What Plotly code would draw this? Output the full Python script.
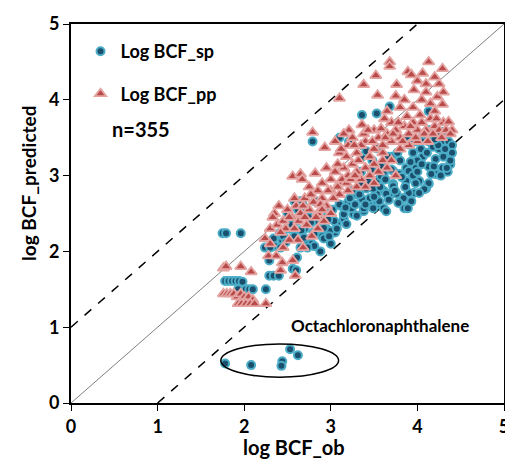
import plotly.graph_objects as go

# ---- data: Log BCF_sp (observed, predicted) ----
sp_x = [1.75, 1.79, 1.96,
        1.78, 1.82, 1.86, 1.90, 1.94, 1.98, 2.02, 2.06, 2.10, 2.25, 1.93,
        2.29, 2.34, 2.40, 2.56, 2.60,
        2.24, 2.35, 2.44, 2.34, 2.29, 2.42, 2.41, 2.50, 2.61, 2.58, 2.82, 2.73, 2.61,
        2.30, 2.45, 2.52, 2.58, 2.65, 2.70, 2.72, 2.75, 2.80, 2.85, 2.90, 2.95, 3.00,
        2.62, 2.68, 2.50, 2.78, 3.05, 2.88, 2.81, 2.73, 2.99, 3.07, 2.92, 3.15, 3.26,
        3.38, 3.45, 3.53, 3.61, 3.76, 3.87, 4.10,
        2.65, 2.67, 2.82, 2.79, 3.10, 3.21, 3.36, 3.53, 3.68, 4.13,
        3.36, 3.41, 3.53, 3.87, 3.90, 4.08, 4.13, 4.29, 4.36, 4.25, 4.33, 4.21, 4.06,
        4.13, 3.98, 3.87, 3.72, 3.61, 3.53, 3.72, 3.87, 4.02, 4.13, 3.41, 3.53, 3.68,
        3.84, 3.96, 3.36, 3.24, 3.38, 3.53, 3.61, 3.85, 3.15, 3.30, 3.04, 3.18, 2.92,
        3.07, 2.81, 2.98, 2.69,
        3.47, 3.58, 3.70, 3.79, 3.90, 3.98, 4.13, 4.21, 4.29, 4.19, 4.08, 4.02, 3.90,
        3.84, 3.93, 3.89, 3.78, 3.64, 3.56, 3.49, 3.64, 3.72, 3.49, 3.45,
        4.29, 4.35, 4.40, 4.30, 4.38, 4.22, 4.15, 3.95, 4.00, 4.18, 4.27, 4.35, 4.40,
        3.30, 3.20, 3.12, 3.00, 2.95, 3.35, 3.25, 3.45, 3.60, 3.70, 3.80, 3.95, 4.05,
        2.48, 2.55, 2.66, 2.77, 2.87, 2.97, 3.02, 3.10, 3.17, 3.22, 3.28, 3.33, 3.40,
        3.43, 3.50, 3.57, 3.63, 3.67, 3.74, 3.82, 3.86, 3.92, 4.00, 4.04, 4.11, 4.16,
        4.24, 4.32, 4.38, 3.35, 3.48, 3.58, 3.66, 3.77, 3.97, 4.07, 4.20, 4.34,
        1.78, 2.08, 2.44, 2.43, 2.53, 2.62]
sp_y = [2.24, 2.24, 2.24,
        1.61, 1.61, 1.61, 1.61, 1.61, 1.60, 1.50, 1.50, 1.50, 1.50, 1.50,
        1.68, 1.68, 1.68, 1.77, 1.75,
        2.05, 2.07, 2.14, 2.17, 1.88, 2.05, 2.24, 2.31, 2.40, 2.66, 2.66, 2.51, 1.92,
        2.05, 2.20, 2.30, 2.20, 2.05, 2.30, 2.15, 2.45, 2.25, 2.40, 2.20, 2.30, 2.10,
        2.55, 2.60, 2.50, 2.10, 2.25, 2.00, 2.07, 2.05, 2.27, 2.36, 2.17, 2.43, 2.49,
        2.53, 2.66, 2.86, 2.80, 2.76, 2.57, 2.83,
        2.66, 2.66, 2.66, 3.45, 3.50, 3.45, 3.80, 3.82, 3.91, 3.85,
        3.25, 3.32, 3.36, 3.49, 3.41, 3.49, 3.45, 3.45, 3.45, 3.35, 3.28, 3.22, 3.25,
        3.12, 3.10, 3.10, 3.06, 3.02, 2.93, 2.89, 2.93, 2.93, 2.89, 2.83, 2.76, 2.76,
        2.70, 2.77, 2.69, 2.57, 2.57, 2.62, 2.57, 2.57, 2.49, 2.47, 2.40, 2.36, 2.31,
        2.30, 2.23, 2.20, 2.18,
        3.08, 2.99, 3.08, 3.02, 3.06, 2.90, 2.90, 3.02, 3.10, 3.12, 2.82, 2.77, 2.77,
        2.70, 2.66, 2.57, 2.64, 2.76, 2.66, 2.57, 2.53, 2.86, 2.83, 2.70,
        3.58, 3.55, 3.40, 3.25, 3.15, 3.55, 3.60, 3.30, 3.20, 3.38, 3.00, 3.05, 3.30,
        2.75, 2.65, 2.60, 2.55, 2.45, 2.90, 2.80, 2.95, 3.15, 3.25, 3.20, 3.00, 3.15,
        2.12, 2.35, 2.28, 2.38, 2.45, 2.42, 2.55, 2.62, 2.58, 2.70, 2.62, 2.75, 2.62,
        2.92, 2.72, 2.85, 2.95, 2.68, 2.80, 2.98, 2.85, 3.18, 3.05, 3.35, 3.30, 3.02,
        3.40, 3.35, 3.20, 3.05, 3.20, 3.12, 3.25, 3.30, 3.45, 3.55, 3.48, 3.10,
        0.52, 0.50, 0.55, 0.49, 0.71, 0.63]

# ---- data: Log BCF_pp (observed, predicted) ----
pp_x = [1.76, 1.80, 1.84, 1.88, 1.92, 1.96, 2.00, 2.05, 2.10,
        1.93, 1.97, 2.02, 2.07, 2.12, 2.25, 1.76, 1.79, 1.96, 2.08,
        2.24, 2.28, 2.37, 2.44, 2.56, 2.59, 2.42, 2.30, 2.38, 2.45, 2.50, 2.55, 2.60,
        2.65, 2.70, 2.75, 2.80, 2.85, 2.90, 2.95, 2.35, 2.40, 2.48, 2.58, 2.62, 2.72,
        2.78, 2.85, 2.92, 3.00, 2.45, 2.52, 2.68, 2.30,
        2.56, 2.65, 2.67, 2.82, 2.90, 2.95, 3.00, 3.05, 3.10, 3.15, 3.20, 3.25, 3.30,
        3.35, 3.40, 3.45, 3.50, 3.55, 3.60, 3.00, 3.10, 3.20, 3.30, 2.75, 2.85, 3.40,
        3.50, 3.65, 3.70, 3.75,
        2.79, 3.21, 2.93, 3.36, 3.10, 3.20, 3.30, 3.40, 3.50, 3.55, 3.60, 3.65, 3.70,
        3.75, 3.80, 3.85, 3.90, 3.95, 4.00, 4.05, 4.10, 4.15, 4.20, 4.25, 4.30, 4.36,
        3.45, 3.60, 3.80, 3.90, 4.00, 3.70, 3.50, 3.05, 3.15, 3.25, 3.35, 3.62, 3.88,
        4.12, 4.28, 4.40,
        2.33, 2.42, 2.52, 2.63, 2.68, 2.77, 2.83, 2.88, 2.97, 3.03, 3.08, 3.13, 3.18,
        3.23, 3.28, 2.58, 2.70, 2.90, 3.12, 3.27, 3.38, 3.43, 3.48, 3.58, 3.63, 3.72,
        3.78, 3.83, 3.92, 3.98, 4.03, 4.08, 4.18, 4.22, 4.33, 4.38, 3.18, 3.32, 3.08,
        3.68, 3.68, 3.52, 3.38, 3.10, 3.54, 3.89, 3.93, 4.13, 4.29, 4.06, 3.76, 4.10,
        4.25, 3.96, 4.23, 4.29, 3.85, 3.95, 4.05, 4.15, 4.20, 4.00, 3.80, 4.10, 3.65,
        3.75, 4.30, 4.20]
pp_y = [1.44, 1.44, 1.44, 1.44, 1.40, 1.44, 1.40, 1.40, 1.36,
        1.31, 1.31, 1.31, 1.31, 1.31, 1.31, 1.78, 1.80, 1.80, 1.73,
        2.17, 1.94, 1.94, 1.85, 1.88, 1.68, 1.75, 2.30, 2.35, 2.40, 2.55, 2.45, 2.60,
        2.50, 2.70, 2.55, 2.65, 2.50, 2.70, 2.60, 2.50, 2.60, 2.30, 2.30, 2.15, 2.35,
        2.20, 2.30, 2.40, 2.50, 2.05, 2.15, 2.05, 2.10,
        2.99, 3.02, 2.95, 3.03, 2.90, 3.10, 2.95, 3.05, 2.90, 3.10, 3.00, 3.15, 3.05,
        2.95, 3.10, 3.00, 3.15, 3.05, 3.20, 2.80, 2.75, 2.80, 2.85, 2.85, 2.80, 2.85,
        2.90, 3.10, 3.20, 3.00,
        3.57, 3.60, 3.37, 3.67, 3.30, 3.40, 3.30, 3.45, 3.35, 3.50, 3.40, 3.55, 3.45,
        3.60, 3.50, 3.65, 3.55, 3.70, 3.60, 3.70, 3.60, 3.75, 3.65, 3.60, 3.70, 3.71,
        3.25, 3.30, 3.35, 3.40, 3.45, 3.70, 3.60, 3.45, 3.55, 3.50, 3.40, 3.75, 3.78,
        3.45, 3.50, 3.60,
        2.45, 2.25, 2.45, 2.40, 2.60, 2.75, 2.45, 2.62, 2.80, 2.70, 2.85, 2.95, 2.90,
        2.95, 3.00, 2.70, 2.45, 2.55, 3.35, 3.40, 3.55, 3.60, 3.45, 3.62, 3.50, 3.55,
        3.70, 3.45, 3.65, 3.50, 3.80, 3.55, 3.55, 3.75, 3.60, 3.55, 3.25, 3.20, 3.15,
        4.50, 4.44, 4.32, 4.20, 4.02, 4.06, 4.37, 4.33, 4.50, 4.41, 4.35, 4.20, 4.21,
        4.21, 4.13, 4.04, 3.94, 4.00, 3.90, 4.00, 3.95, 3.85, 4.25, 3.90, 4.10, 3.85,
        4.05, 4.10, 4.30]

# reference lines
line_x = [0, 5]
line_y = [0, 5]
upper_x = [0, 4]
upper_y = [1, 5]
lower_x = [1, 5]
lower_y = [0, 4]

FONT = "Lato, Carlito, 'Open Sans', sans-serif"

fig = go.Figure()

fig.add_trace(go.Scatter(x=line_x, y=line_y, mode="lines", showlegend=False,
                         line=dict(color="#7f7f7f", width=1), hoverinfo="skip"))
fig.add_trace(go.Scatter(x=upper_x, y=upper_y, mode="lines", showlegend=False,
                         line=dict(color="black", width=1.5, dash="dash"), hoverinfo="skip"))
fig.add_trace(go.Scatter(x=lower_x, y=lower_y, mode="lines", showlegend=False,
                         line=dict(color="black", width=1.5, dash="dash"), hoverinfo="skip"))

fig.add_trace(go.Scatter(x=sp_x, y=sp_y, mode="markers", name="Log BCF_sp",
                         legendgroup="sp",
                         marker=dict(symbol="circle", size=8, color="#1b4f6e",
                                     line=dict(color="#4bacc6", width=2))))
fig.add_trace(go.Scatter(x=pp_x, y=pp_y, mode="markers", name="Log BCF_pp",
                         legendgroup="pp",
                         marker=dict(symbol="triangle-up", size=10, color="#b84a4a",
                                     line=dict(color="#e3a4a2", width=1.8))))

fig.add_shape(type="circle", xref="x", yref="y", x0=1.73, x1=3.09, y0=0.34, y1=0.78,
              line=dict(color="black", width=1.5))

fig.add_annotation(x=3.57, y=1.02, xref="x", yref="y", text="Octachloronaphthalene",
                   showarrow=False, font=dict(family=FONT, size=17, color="black", weight="bold"))
fig.add_annotation(x=0.089, y=0.722, xref="paper", yref="paper", text="n=355",
                   showarrow=False, xanchor="left", yanchor="middle",
                   font=dict(family=FONT, size=20, color="black", weight="bold"))
fig.add_annotation(x=-0.100, y=0.58, xref="paper", yref="paper", text="log BCF_predicted",
                   showarrow=False, textangle=-90, xanchor="center", yanchor="middle",
                   font=dict(family=FONT, size=19, color="black", weight="bold"))
fig.add_annotation(x=0.514, y=-0.1155, xref="paper", yref="paper", text="log BCF_ob",
                   showarrow=False, xanchor="center", yanchor="middle",
                   font=dict(family=FONT, size=20, color="black", weight="bold"))

axis_common = dict(range=[0, 5], dtick=1, ticks="outside", ticklen=6, tickwidth=1,
                   tickcolor="black", showline=True, linecolor="black", linewidth=2,
                   mirror=True, showgrid=False, zeroline=False,
                   tickfont=dict(family=FONT, size=18, color="black", weight="bold"))

fig.update_layout(
    width=505, height=455,
    margin=dict(l=63, r=4, t=14, b=60),
    paper_bgcolor="white", plot_bgcolor="white",
    xaxis=dict(**axis_common),
    yaxis=dict(**axis_common),
    legend=dict(x=0.022, y=0.976, xanchor="left", yanchor="top", bgcolor="rgba(0,0,0,0)",
                tracegroupgap=16, itemwidth=30,
                font=dict(family=FONT, size=18, color="black", weight="bold")),
    font=dict(family=FONT),
)

fig.write_html("out.html")
